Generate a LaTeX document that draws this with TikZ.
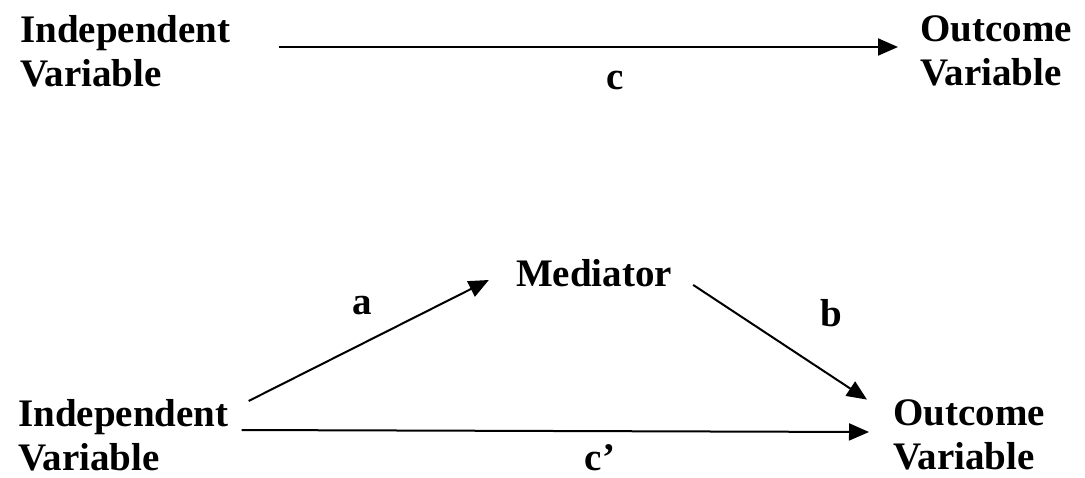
\documentclass[tikz,border=0pt]{standalone}
\usepackage{fontspec}
\setmainfont{Liberation Serif}
\usetikzlibrary{arrows.meta}
\tikzset{
  var/.style={font=\bfseries\fontsize{39}{44}\selectfont, align=left, inner sep=4pt},
  lbl/.style={font=\bfseries\fontsize{39}{44}\selectfont, inner sep=0pt},
  arr/.style={line width=2pt, -{Triangle[length=20pt,width=17pt]}}
}
\begin{document}
\begin{tikzpicture}[x=1pt,y=-1pt]
  \useasboundingbox (0,0) rectangle (1085,477);

  % --- Total effect ---
  \node[var,anchor=west] (iv1) at (16,51) {Independent\\Variable};
  \node[var,anchor=west] (ov1) at (916,51) {Outcome\\Variable};
  \draw[arr] ([xshift=44pt,yshift=4pt]iv1.east) -- ([xshift=-18pt,yshift=4pt]ov1.west);
  \node[lbl] (c) at (615,80) {c};

  % --- Mediated effect ---
  \node[var] (med) at (594,273) {Mediator};
  \node[var,anchor=west] (iv2) at (14,435) {Independent\\Variable};
  \node[var,anchor=west] (ov2) at (889,435) {Outcome\\Variable};

  \draw[arr] ([xshift=16pt,yshift=-6pt]iv2.north east) -- ([xshift=-23pt,yshift=-7pt]med.west);
  \draw[arr] ([xshift=17pt,yshift=6pt]med.south east) -- ([xshift=-22pt,yshift=-4pt]ov2.north west);
  \draw[arr] ([xshift=9pt,yshift=5pt]iv2.east) -- ([xshift=-20pt,yshift=3pt]ov2.west);

  % --- Path labels ---
  \node[lbl] (a) at (362,306) {a};
  \node[lbl] (b) at (831,313) {b};
  \node[lbl] (cp) at (600,458) {c’};
\end{tikzpicture}
\end{document}
